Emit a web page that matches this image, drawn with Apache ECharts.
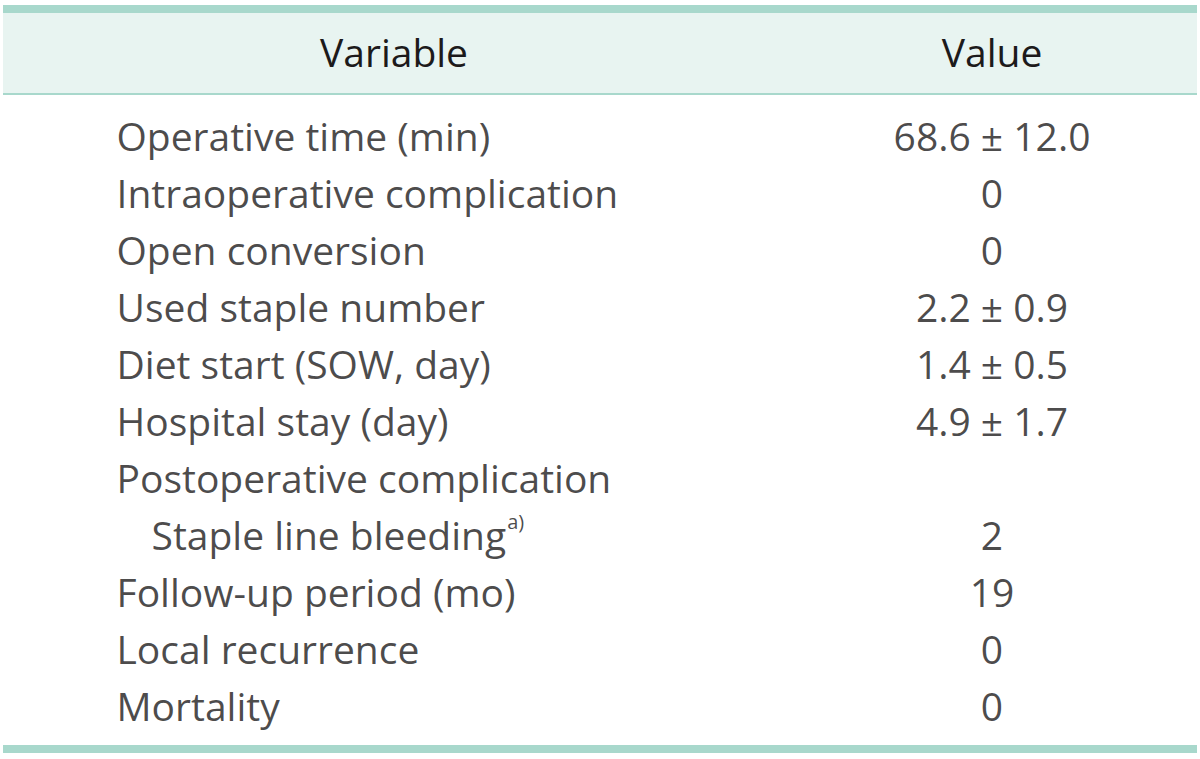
<!DOCTYPE html>
<html>
<head>
<meta charset="utf-8">
<script src="https://cdn.jsdelivr.net/npm/echarts@6/dist/echarts.min.js"></script>
<style>
html,body{margin:0;padding:0;background:#fff;}
#chart{width:1200px;height:759px;}
</style>
</head>
<body>
<div id="chart"></div>
<script>
// ---- data ----
const columns = ['Variable', 'Value'];
const variables = [
  'Operative time (min)',
  'Intraoperative complication',
  'Open conversion',
  'Used staple number',
  'Diet start (SOW, day)',
  'Hospital stay (day)',
  'Postoperative complication',
  'Staple line bleeding',
  'Follow-up period (mo)',
  'Local recurrence',
  'Mortality'
];
const values = ['68.6 ± 12.0', '0', '0', '2.2 ± 0.9', '1.4 ± 0.5', '4.9 ± 1.7', '', '2', '19', '0', '0'];
const indentLevels = [0, 0, 0, 0, 0, 0, 0, 1, 0, 0, 0];
const footnoteMarks = ['', '', '', '', '', '', '', 'a)', '', '', ''];

// ---- layout/style ----
const FONT = '"Open Sans"';
const FS = 39;
const TEXT = '#1c1a1b';
const RULE = '#a8d8cc';
const BAND = '#e8f4f1';
const LEFT_X = 116, INDENT = 35, VALUE_X = 992;

const chart = echarts.init(document.getElementById('chart'), null, {renderer: 'svg'});

const varData = variables.map((v, i) => ({
  value: [LEFT_X + INDENT * indentLevels[i], i],
  label: {
    formatter: footnoteMarks[i] ? '{t|' + v + '}{s|' + footnoteMarks[i] + '}' : '{t|' + v + '}'
  }
}));
const valData = values.map((v, i) => ({ value: [VALUE_X, i], name: v }));

chart.setOption({
  animation: false,
  grid: { left: 0, right: 0, top: 107, height: 627 },
  xAxis: { type: 'value', min: 0, max: 1200, show: false },
  yAxis: { type: 'category', data: variables, inverse: true, show: false },
  graphic: [
    { type: 'rect', shape: { x: 3, y: 13, width: 1194, height: 81 }, style: { fill: BAND }, silent: true },
    { type: 'rect', shape: { x: 3, y: 5, width: 1194, height: 8 }, style: { fill: RULE }, silent: true },
    { type: 'rect', shape: { x: 3, y: 93, width: 1194, height: 2 }, style: { fill: RULE }, silent: true },
    { type: 'rect', shape: { x: 3, y: 745, width: 1194, height: 8 }, style: { fill: RULE }, silent: true },
    { type: 'text', x: 394, y: 51, style: { text: columns[0], font: FS + 'px ' + FONT, fill: TEXT, textAlign: 'center', textVerticalAlign: 'middle' }, silent: true },
    { type: 'text', x: VALUE_X, y: 51, style: { text: columns[1], font: FS + 'px ' + FONT, fill: TEXT, textAlign: 'center', textVerticalAlign: 'middle' }, silent: true }
  ],
  series: [
    {
      type: 'scatter', silent: true, symbolSize: 1,
      itemStyle: { color: 'rgba(0,0,0,0)' },
      data: varData,
      label: {
        show: true, position: 'right', distance: 0,
        rich: {
          t: { fontFamily: FONT, fontSize: FS, color: TEXT },
          s: { fontFamily: FONT, fontSize: 20, color: TEXT, verticalAlign: 'top', padding: [0, 0, 26, 1] }
        }
      }
    },
    {
      type: 'scatter', silent: true, symbolSize: 1,
      itemStyle: { color: 'rgba(0,0,0,0)' },
      data: valData,
      label: {
        show: true, position: 'inside', formatter: p => p.name,
        fontFamily: FONT, fontSize: FS, color: TEXT, align: 'center', verticalAlign: 'middle'
      }
    }
  ]
});
</script>
</body>
</html>
